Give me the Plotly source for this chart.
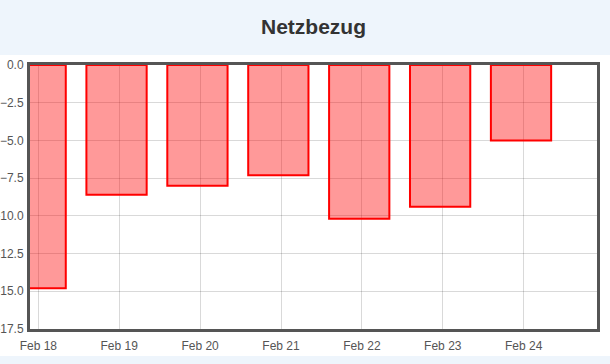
import plotly.graph_objects as go

dates = ["2024-02-18", "2024-02-19", "2024-02-20", "2024-02-21",
         "2024-02-22", "2024-02-23", "2024-02-24"]
netzbezug = [-14.8, -8.6, -8.0, -7.3, -10.2, -9.4, -5.0]
y_ticks = [0, -2.5, -5, -7.5, -10, -12.5, -15, -17.5]

DAY = 86400000
bar_w = 0.745 * DAY

fig = go.Figure()
fig.add_trace(go.Bar(
    x=dates, y=netzbezug,
    width=[bar_w] * len(dates),
    offset=[-bar_w / 2 - 0.033 * DAY] * len(dates),
    marker=dict(color="rgba(255,0,0,0.4)", line=dict(color="#ff0000", width=2)),
    name="Netzbezug",
))

fig.update_layout(
    width=610, height=364,
    margin=dict(l=30, r=13, t=65, b=35, autoexpand=False),
    paper_bgcolor="#EEF5FC",
    plot_bgcolor="white",
    showlegend=False,
    title=dict(text="<b>Netzbezug</b>", x=0.5, xref="paper", y=0.927, yanchor="middle",
               font=dict(family="Liberation Sans, Arial, sans-serif", size=21, color="#333333")),
    font=dict(family="Liberation Sans, Arial, sans-serif", size=12, color="#555555"),
    shapes=[dict(type="rect", xref="paper", yref="paper", x0=-0.1, x1=1.1,
                 y0=-0.1023, y1=1.0379, fillcolor="white", line=dict(width=0), layer="below")],
)
fig.update_xaxes(
    type="date", automargin=False,
    range=["2024-02-17 21:32", "2024-02-24 21:45"],
    tick0="2024-02-18", dtick=DAY, tickformat="%b %d",
    showgrid=True, gridcolor="rgba(0,0,0,0.15)", gridwidth=1,
    showline=True, mirror=True, linecolor="#555555", linewidth=3,
    ticks="", ticklabelstandoff=4,
)
fig.update_yaxes(
    automargin=False,
    range=[-17.5, 0], tickvals=y_ticks, tickformat=".1f",
    showgrid=True, gridcolor="rgba(0,0,0,0.15)", gridwidth=1,
    zeroline=False,
    showline=True, mirror=True, linecolor="#555555", linewidth=3,
    ticks="", ticklabelstandoff=1,
)
fig.write_html("out.html")
